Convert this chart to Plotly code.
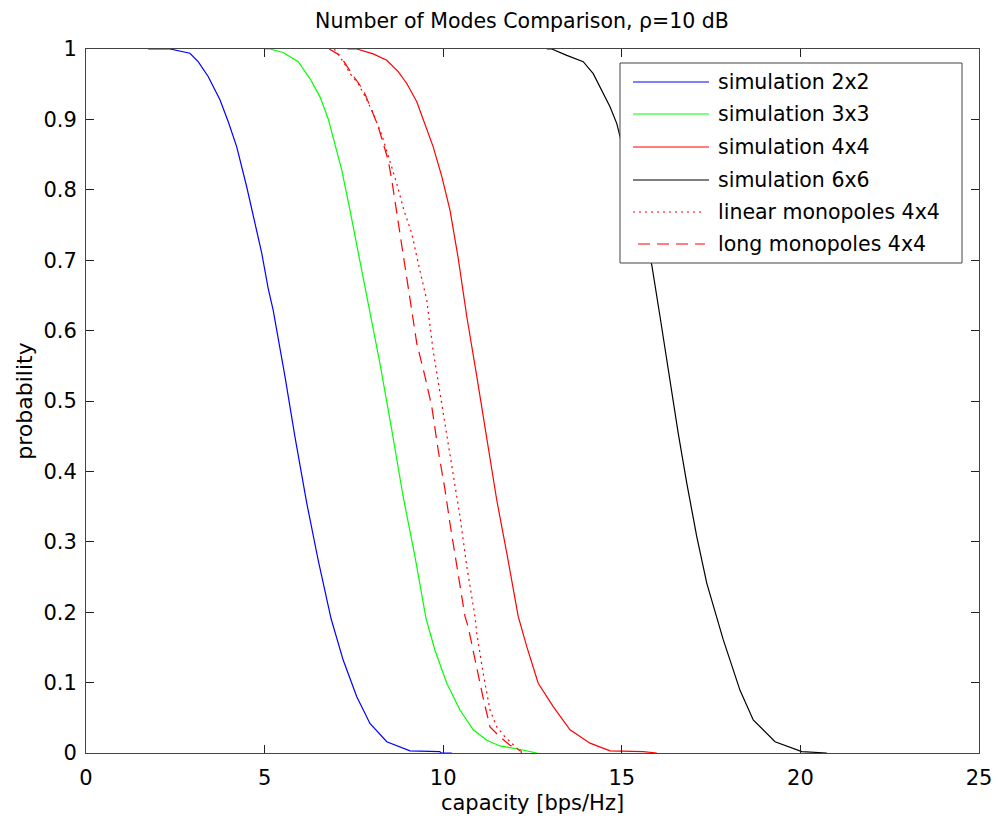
import plotly.graph_objects as go

# Capacity CDFs (probability that capacity exceeds x) for several MIMO configurations
sim2_x = [1.74, 2.35, 2.91, 3.14, 3.42, 3.75, 3.98, 4.22, 4.50, 4.73, 4.92, 5.10, 5.24,
          5.57, 5.85, 6.18, 6.50, 6.86, 7.20, 7.58, 7.95, 8.42, 9.07, 9.90, 9.95, 10.24]
sim2_y = [1.0, 1.0, 0.994, 0.982, 0.961, 0.928, 0.897, 0.861, 0.804, 0.753, 0.710, 0.660, 0.629,
          0.535, 0.449, 0.355, 0.274, 0.191, 0.132, 0.080, 0.042, 0.016, 0.003, 0.002, 0.0, 0.0]

sim3_x = [5.01, 5.15, 5.52, 5.94, 6.27, 6.55, 6.78, 6.97, 7.16, 7.39, 7.65, 7.95, 8.23,
          8.56, 8.88, 9.21, 9.52, 9.77, 10.10, 10.47, 10.84, 11.22, 11.59, 12.06, 12.62]
sim3_y = [1.0, 1.0, 0.995, 0.982, 0.958, 0.932, 0.901, 0.866, 0.828, 0.771, 0.703, 0.629, 0.553,
          0.459, 0.364, 0.279, 0.191, 0.146, 0.099, 0.061, 0.033, 0.018, 0.010, 0.006, 0.0]

sim4_x = [7.32, 7.58, 8.04, 8.42, 8.74, 8.98, 9.26, 9.49, 9.72, 9.96, 10.19, 10.42, 10.66,
          10.94, 11.22, 11.50, 11.78, 12.10, 12.34, 12.66, 13.08, 13.55, 14.11, 14.67, 15.60, 15.98]
sim4_y = [1.0, 1.0, 0.993, 0.984, 0.968, 0.951, 0.925, 0.894, 0.861, 0.819, 0.771, 0.703, 0.620,
          0.535, 0.449, 0.359, 0.284, 0.194, 0.151, 0.099, 0.066, 0.033, 0.014, 0.003, 0.002, 0.0]

sim6_x = [12.90, 13.04, 13.46, 13.92, 14.20, 14.44, 14.67, 14.86, 15.84, 16.07, 16.35, 16.58,
          16.82, 17.10, 17.38, 17.84, 18.31, 18.68, 19.29, 19.80, 20.04, 20.74]
sim6_y = [1.0, 1.0, 0.991, 0.982, 0.965, 0.942, 0.918, 0.894, 0.693, 0.620, 0.525, 0.454,
          0.383, 0.307, 0.241, 0.161, 0.089, 0.047, 0.016, 0.007, 0.002, 0.0]

linear_x = [6.95, 7.23, 7.39, 7.62, 7.86, 8.06, 8.28, 8.51, 8.70, 8.90, 9.12, 9.26, 9.54, 9.72,
            9.91, 10.10, 10.28, 10.47, 10.66, 10.89, 10.94, 11.12, 11.31, 11.50, 11.73, 12.01, 12.20]
linear_y = [1.0, 0.980, 0.965, 0.951, 0.928, 0.906, 0.878, 0.842, 0.809, 0.771, 0.738, 0.705, 0.643,
            0.571, 0.511, 0.454, 0.392, 0.336, 0.265, 0.194, 0.170, 0.113, 0.061, 0.037, 0.023, 0.009, 0.0]

long_x = [6.81, 7.11, 7.44, 7.76, 8.00, 8.18, 8.32, 8.46, 8.56, 8.70, 8.87, 9.07, 9.26, 9.49,
          9.68, 9.86, 10.05, 10.19, 10.38, 10.61, 10.70, 10.89, 11.11, 11.31, 11.59, 11.87, 12.20]
long_y = [1.0, 0.991, 0.965, 0.942, 0.913, 0.890, 0.866, 0.842, 0.814, 0.767, 0.710, 0.643, 0.582,
          0.535, 0.492, 0.430, 0.374, 0.326, 0.265, 0.194, 0.179, 0.132, 0.080, 0.037, 0.023, 0.011, 0.002]

series_names = ["simulation 2x2", "simulation 3x3", "simulation 4x4", "simulation 6x6",
                "linear monopoles 4x4", "long monopoles 4x4"]
series_x = [sim2_x, sim3_x, sim4_x, sim6_x, linear_x, long_x]
series_y = [sim2_y, sim3_y, sim4_y, sim6_y, linear_y, long_y]
series_colors = ["#0000ff", "#00ff00", "#ff0000", "#000000", "#ff0000", "#ff0000"]
series_dash = ["solid", "solid", "solid", "solid", "2px,4px", "12px,7px"]

x_ticks = [0, 5, 10, 15, 20, 25]
y_ticks = [0, 0.1, 0.2, 0.3, 0.4, 0.5, 0.6, 0.7, 0.8, 0.9, 1]
y_tick_text = ["0", "0.1", "0.2", "0.3", "0.4", "0.5", "0.6", "0.7", "0.8", "0.9", "1"]

title_text = "Number of Modes Comparison, \u03c1=10 dB"
x_title = "capacity [bps/Hz]"
y_title = "probability"

W, H = 998, 824
L, R, T, B = 86, 19, 49, 71
FONT = "DejaVu Sans"

fig = go.Figure()
for name, xs, ys, col, dash in zip(series_names, series_x, series_y, series_colors, series_dash):
    fig.add_trace(go.Scatter(x=xs, y=ys, mode="lines", name=name,
                             line=dict(color=col, width=1.2, dash=dash),
                             showlegend=False))

axis_common = dict(showgrid=False, zeroline=False, showline=True, linecolor="#444444",
                   linewidth=1, mirror="ticks", ticks="inside", ticklen=8,
                   tickcolor="#222222", tickwidth=1,
                   tickfont=dict(family=FONT, size=21, color="#000000"))

fig.update_xaxes(range=[0, 25], tickvals=x_ticks, ticktext=[str(v) for v in x_ticks],
                 ticklabelstandoff=6,
                 title=dict(text=x_title, font=dict(family=FONT, size=21, color="#000000"),
                            standoff=6),
                 **axis_common)
fig.update_yaxes(range=[0, 1], tickvals=y_ticks, ticktext=y_tick_text,
                 ticklabelstandoff=4,
                 title=dict(text=y_title, font=dict(family=FONT, size=22, color="#000000"),
                            standoff=4),
                 **axis_common)

# Legend box drawn in plot-area fractions
pw, ph = W - L - R, H - T - B


def px_x(p):
    return (p - L) / pw


def px_y(p):
    return (H - B - p) / ph


shapes = [dict(type="rect", xref="paper", yref="paper",
               x0=px_x(620), x1=px_x(962), y0=px_y(263), y1=px_y(63),
               line=dict(color="#444444", width=1), fillcolor="#ffffff", layer="above")]
annotations = []
row_y = [82, 114, 147, 180, 212, 244]
for i, (name, col, dash) in enumerate(zip(series_names, series_colors, series_dash)):
    yy = px_y(row_y[i])
    x0 = 638 if i == 5 else 633
    x1 = 705 if i >= 4 else 709
    shapes.append(dict(type="line", xref="paper", yref="paper",
                       x0=px_x(x0), x1=px_x(x1), y0=yy, y1=yy,
                       line=dict(color=col, width=1.2, dash=dash), layer="above"))
    annotations.append(dict(xref="paper", yref="paper", x=px_x(716), y=yy,
                            xanchor="left", yanchor="middle", text=name, showarrow=False,
                            font=dict(family=FONT, size=20.5, color="#000000")))

fig.update_layout(
    width=W, height=H,
    margin=dict(l=L, r=R, t=T, b=B, autoexpand=False),
    paper_bgcolor="#ffffff", plot_bgcolor="#ffffff",
    title=dict(text=title_text, x=px_x(522), xref="paper", y=1 - 21 / H, yref="container",
               xanchor="center", yanchor="middle",
               font=dict(family=FONT, size=20.5, color="#000000")),
    shapes=shapes, annotations=annotations,
    showlegend=False,
)

fig.write_html("out.html")
